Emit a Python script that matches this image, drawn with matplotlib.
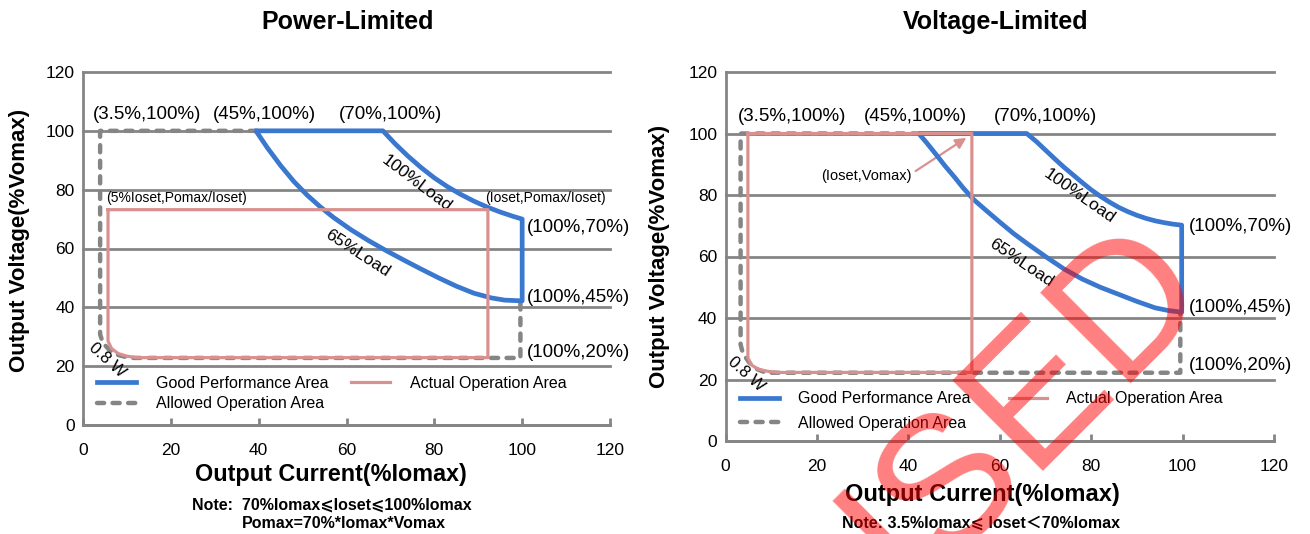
import matplotlib
matplotlib.use("Agg")
import matplotlib.pyplot as plt

plt.rcParams['font.family'] = ['Liberation Sans', 'DejaVu Sans', 'Noto Sans CJK SC']

# ---- data (x: %Iomax, y: %Vomax) ----
ticks = [0, 20, 40, 60, 80, 100, 120]

# Power-Limited
pl_allowed_x = [39.6, 3.9, 3.9, 4.5, 6.0, 8.0, 10.6, 99.6, 99.6]
pl_allowed_y = [100, 100, 30.8, 28.0, 25.5, 23.8, 22.8, 22.8, 42.2]
# good area: top edge, 100% load curve, right edge, 65% load curve back
pl_good_x = [39.6, 68.3, 71, 74, 77, 80, 83, 86, 89, 92, 95, 98, 100, 100,
             96, 93, 89, 85, 81, 77, 73, 69, 65, 61, 57, 54, 51, 48, 45,
             42, 39.6]
pl_good_y = [100, 100, 95.7, 91.4, 87.5, 84.0, 81.0, 78.4, 76.1, 74.1,
             72.4, 70.9, 70.0, 42.2,
             42.45, 43.2, 44.8, 47.2, 50.0, 53.0, 56.1, 59.3, 62.7, 66.4,
             70.6, 74.2, 78.2, 82.8, 88.2, 94.2, 99.5]
pl_actual_x = [5.7, 5.7, 6.5, 8.0, 10.0, 12.3, 92.2, 92.2, 5.7]
pl_actual_y = [73.2, 28.5, 26.0, 24.3, 23.4, 22.9, 22.9, 73.2, 73.2]

# Voltage-Limited
vl_allowed_x = [42.4, 3.3, 3.3, 3.8, 5.2, 7.0, 8.9, 99.5, 99.5]
vl_allowed_y = [100, 100, 31.4, 28.5, 25.5, 23.3, 22.2, 22.2, 41.7]
vl_good_x = [42.8, 65.9, 68, 70, 72, 74, 76, 78, 80, 82, 84, 86, 88, 90,
             92, 94, 96, 98, 99.8, 99.8,
             97, 94, 90, 86, 82, 78, 74, 70, 66, 63, 60, 57, 54.3, 52, 50,
             48, 46, 44, 42.8]
vl_good_y = [100, 100, 97.4, 94.6, 91.8, 89.1, 86.6, 84.1, 81.7, 79.6,
             77.7, 76.0, 74.6, 73.4, 72.4, 71.6, 71.0, 70.5, 70.2, 41.9,
             42.4, 43.3, 45.4, 47.7, 50.0, 52.7, 56.0, 60.0, 64.2, 67.5,
             71.2, 75.0, 78.5, 82.3, 86.0, 89.5, 93.3, 97.0, 99.1]
vl_actual_x = [4.9, 4.9, 5.6, 7.2, 9.5, 11.3, 53.9, 53.9, 4.9]
vl_actual_y = [100, 27.1, 24.8, 23.3, 22.6, 22.3, 22.3, 100, 100]

BLUE = '#3a77cf'
PINK = '#d99190'
GRAY = '#858585'
W, H = 1310, 534


def setup_axes(ax):
    ax.set_xlim(0, 120)
    ax.set_ylim(0, 120)
    ax.set_xticks(ticks)
    ax.set_yticks(ticks)
    for s in ['top', 'right']:
        ax.spines[s].set_visible(False)
    for s in ['left', 'bottom']:
        ax.spines[s].set_color(GRAY)
        ax.spines[s].set_linewidth(2.0)
    ax.grid(axis='y', color=GRAY, lw=2.0)
    for gl in ax.get_ygridlines():
        gl.set_clip_on(False)
    ax.tick_params(axis='x', direction='in', length=5, width=2, color=GRAY,
                   pad=13, labelsize=12.5)
    ax.tick_params(axis='y', length=0, pad=6, labelsize=12.5)
    ax.set_axisbelow(True)


def draw_areas(ax, ax_x, ax_y, gx, gy, px, py):
    a, = ax.plot(ax_x, ax_y, color=GRAY, lw=3.2, dashes=(1.6, 1.9),
                 dash_capstyle='round', label='Allowed Operation Area', zorder=3)
    g, = ax.plot(gx, gy, color=BLUE, lw=3.4, solid_joinstyle='round',
                 label='Good Performance Area', zorder=4)
    p, = ax.plot(px, py, color=PINK, lw=2.3, solid_joinstyle='round',
                 label='Actual Operation Area', zorder=5)
    return [g, a, p]


fig = plt.figure(figsize=(13.1, 5.34), dpi=100)
ax1 = fig.add_axes([83 / W, 1 - 425 / H, 527 / W, 353 / H])
ax2 = fig.add_axes([725.5 / W, 1 - 441 / H, 548.5 / W, 369 / H])

# ---------------- Power-Limited ----------------
setup_axes(ax1)
h1 = draw_areas(ax1, pl_allowed_x, pl_allowed_y, pl_good_x, pl_good_y,
                pl_actual_x, pl_actual_y)
lab = dict(fontsize=13.5, ha='center', va='center')
ax1.text(14.5, 105.5, '(3.5%,100%)', **lab)
ax1.text(41.3, 105.5, '(45%,100%)', **lab)
ax1.text(70.1, 105.5, '(70%,100%)', **lab)
ax1.text(5.3, 77.2, '(5%Ioset,Pomax/Ioset)', fontsize=10, va='center')
ax1.text(91.5, 77.2, '(Ioset,Pomax/Ioset)', fontsize=10, va='center')
ax1.text(101, 67.3, '(100%,70%)', fontsize=13.5, va='center')
ax1.text(101, 43.3, '(100%,45%)', fontsize=13.5, va='center')
ax1.text(101, 24.5, '(100%,20%)', fontsize=13.5, va='center')
ax1.text(76, 82, '100%Load', fontsize=12.5, rotation=-37, ha='center', va='center')
ax1.text(62.5, 58.4, '65%Load', fontsize=12.5, rotation=-33, ha='center', va='center')
ax1.text(5.5, 22.2, '0.8 W', fontsize=12, rotation=-42, ha='center', va='center')

# ---------------- Voltage-Limited ----------------
setup_axes(ax2)
h2 = draw_areas(ax2, vl_allowed_x, vl_allowed_y, vl_good_x, vl_good_y,
                vl_actual_x, vl_actual_y)
ax2.text(14.5, 105.6, '(3.5%,100%)', **lab)
ax2.text(41.6, 105.6, '(45%,100%)', **lab)
ax2.text(70.1, 105.6, '(70%,100%)', **lab)
ax2.text(101.3, 69.9, '(100%,70%)', fontsize=13.5, va='center')
ax2.text(101.3, 43.3, '(100%,45%)', fontsize=13.5, va='center')
ax2.text(101.3, 24.4, '(100%,20%)', fontsize=13.5, va='center')
ax2.text(77.4, 79.6, '100%Load', fontsize=12.5, rotation=-35, ha='center', va='center')
ax2.text(64.7, 58, '65%Load', fontsize=12.5, rotation=-34, ha='center', va='center')
ax2.text(4.5, 21.7, '0.8 W', fontsize=12, rotation=-42, ha='center', va='center')
ax2.text(30.8, 86.1, '(Ioset,Vomax)', fontsize=10.5, ha='center', va='center')
ax2.annotate('', xy=(52.7, 98.6), xytext=(41.6, 87.8),
             arrowprops=dict(arrowstyle='-|>', color=PINK, lw=1.6,
                             mutation_scale=16, shrinkA=0, shrinkB=0))

# legends (column 1: good + allowed, column 2: actual)
ax1.legend(handles=h1, loc='upper left', bbox_to_anchor=(0.027, 0.14), ncol=2,
           frameon=False, fontsize=11.5, borderpad=0, handlelength=2.4,
           handletextpad=1.3, columnspacing=1.4, labelspacing=0.35,
           borderaxespad=0)
ax2.legend(handles=h2, loc='upper left', bbox_to_anchor=(0.027, 0.135), ncol=2,
           frameon=False, fontsize=11.5, borderpad=0, handlelength=2.4,
           handletextpad=1.2, columnspacing=2.4, labelspacing=0.6,
           borderaxespad=0)

# titles, axis labels, notes
fig.text(348 / W, 1 - 22 / H, 'Power-Limited', fontsize=18, weight='bold',
         ha='center', va='center')
fig.text(996 / W, 1 - 22 / H, 'Voltage-Limited', fontsize=18, weight='bold',
         ha='center', va='center')
for ax in (ax1, ax2):
    ax.set_ylabel('Output Voltage(%Vomax)', fontsize=16, weight='bold')
ax1.yaxis.set_label_coords(-0.10, 0.524)
ax2.yaxis.set_label_coords(-0.101, 0.5)
fig.text(331 / W, 1 - 475 / H, 'Output Current(%Iomax)', fontsize=16.8,
         weight='bold', ha='center', va='center')
fig.text(982 / W, 1 - 495 / H, 'Output Current(%Iomax)', fontsize=17,
         weight='bold', ha='center', va='center')
fig.text(332 / W, 1 - 505 / H, 'Note:  70%Iomax\u2a7dIoset\u2a7d100%Iomax',
         fontsize=11.5, weight='bold', ha='center', va='center')
fig.text(344 / W, 1 - 523 / H, 'Pomax=70%*Iomax*Vomax',
         fontsize=11.5, weight='bold', ha='center', va='center')
fig.text(981 / W, 1 - 523 / H, 'Note: 3.5%Iomax\u2a7d Ioset\uff1c70%Iomax',
         fontsize=11.5, weight='bold', ha='center', va='center')

# "USED" stamp over the right chart
fig.text(1029 / W, 1 - 471 / H, 'USED', fontsize=134, color='#ff0000',
         alpha=0.5, rotation=45, rotation_mode='anchor', ha='center',
         va='baseline', zorder=20)

fig.savefig('out.png', dpi=100)
